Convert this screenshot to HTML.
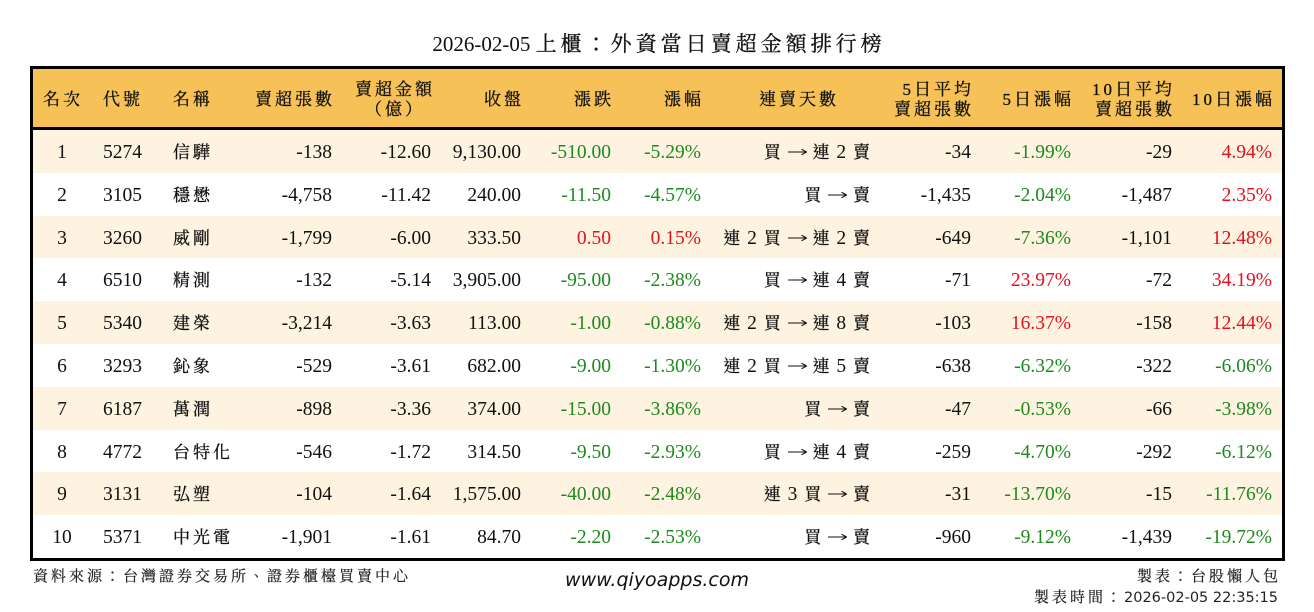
<!DOCTYPE html>
<html lang="zh-Hant-TW">
<head>
<meta charset="utf-8">
<style>
*{box-sizing:border-box;}
html,body{margin:0;padding:0;}
body{width:1314px;height:612px;background:#fff;position:relative;overflow:hidden;font-family:"Liberation Serif","Noto Serif CJK SC",serif;color:#111;}
.title{position:absolute;left:0;top:28px;width:1314px;text-align:center;line-height:30px;font-size:21px;white-space:nowrap;}
.title .cj{letter-spacing:4px;margin-right:-4px;font-family:"Noto Serif CJK SC",serif;-webkit-text-stroke:0.3px #111;}
.tbl{position:absolute;left:30px;top:66px;width:1255px;height:495px;border:3px solid #000;background:#fff;}
.hd{position:absolute;left:0;top:0;width:100%;height:61px;background:#F6C157;border-bottom:3px solid #000;font-family:"Liberation Serif","Noto Serif CJK SC",serif;font-size:17px;letter-spacing:3px;-webkit-text-stroke:0.3px #111;}
.hd div{position:absolute;white-space:nowrap;}
.h1{top:2px;line-height:58px;}
.h2{top:11px;line-height:20px;}
.r{position:absolute;left:0;width:100%;height:42.8px;font-size:19.5px;line-height:42.8px;}
.o{background:#FDF3E0;}
.r span{position:absolute;top:2px;white-space:nowrap;}
.c1{left:9px;width:40px;text-align:center;}
.c2{left:70px;}
.c3{left:140px;font-size:17px;letter-spacing:3px;-webkit-text-stroke:0.3px #111;}
.c4{right:950px;}
.c5{right:851px;}
.c6{right:761px;}
.c7{right:671px;}
.c8{right:581px;}
.c9{right:411px;letter-spacing:1px;}
.c9 b{font-weight:normal;font-size:17px;-webkit-text-stroke:0.3px #111;}
.c9 svg{vertical-align:2px;}
.c10{right:311px;}
.c11{right:211px;}
.c12{right:110px;}
.c13{right:10px;}
.g{color:#1E8A1E;}
.d{color:#E3121E;}
.foot{position:absolute;font-size:15px;line-height:20px;white-space:nowrap;color:#222;}
.foot .cj{letter-spacing:3px;-webkit-text-stroke:0.2px #222;}
.www{position:absolute;left:0;top:568px;width:1314px;text-align:center;font-family:"DejaVu Sans",sans-serif;font-style:italic;font-size:19px;line-height:24px;color:#111;}
.dt{font-family:"DejaVu Sans",sans-serif;font-size:14.5px;letter-spacing:0;}
</style>
</head>
<body>
<div class="title">2026-02-05 <span class="cj">上櫃：外資當日賣超金額排行榜</span></div>

<div class="tbl">
  <div class="hd">
    <div class="h1" style="left:10px;">名次</div>
    <div class="h1" style="left:70px;">代號</div>
    <div class="h1" style="left:140px;">名稱</div>
    <div class="h1" style="right:947px;">賣超張數</div>
    <div class="h2" style="left:322px;width:80px;text-align:center;">賣超金額<br>（億）</div>
    <div class="h1" style="right:758px;">收盤</div>
    <div class="h1" style="right:668px;">漲跌</div>
    <div class="h1" style="right:578px;">漲幅</div>
    <div class="h1" style="left:726px;">連賣天數</div>
    <div class="h2" style="right:308px;text-align:right;">5日平均<br>賣超張數</div>
    <div class="h1" style="right:208px;">5日漲幅</div>
    <div class="h2" style="right:107px;text-align:right;">10日平均<br>賣超張數</div>
    <div class="h1" style="right:7px;">10日漲幅</div>
  </div>

  <div class="r o" style="top:61px;"><span class="c1">1</span><span class="c2">5274</span><span class="c3">信驊</span><span class="c4">-138</span><span class="c5">-12.60</span><span class="c6">9,130.00</span><span class="c7 g">-510.00</span><span class="c8 g">-5.29%</span><span class="c9"><b>買</b> <svg width="19" height="8" viewBox="0 0 19 8"><path d="M0 4H17.5M13.5 1.2L18.5 4L13.5 6.8" stroke="#111" fill="none" stroke-width="1.1"/></svg> <b>連</b> 2 <b>賣</b></span><span class="c10">-34</span><span class="c11 g">-1.99%</span><span class="c12">-29</span><span class="c13 d">4.94%</span></div>

  <div class="r" style="top:103.8px;"><span class="c1">2</span><span class="c2">3105</span><span class="c3">穩懋</span><span class="c4">-4,758</span><span class="c5">-11.42</span><span class="c6">240.00</span><span class="c7 g">-11.50</span><span class="c8 g">-4.57%</span><span class="c9"><b>買</b> <svg width="19" height="8" viewBox="0 0 19 8"><path d="M0 4H17.5M13.5 1.2L18.5 4L13.5 6.8" stroke="#111" fill="none" stroke-width="1.1"/></svg> <b>賣</b></span><span class="c10">-1,435</span><span class="c11 g">-2.04%</span><span class="c12">-1,487</span><span class="c13 d">2.35%</span></div>

  <div class="r o" style="top:146.6px;"><span class="c1">3</span><span class="c2">3260</span><span class="c3">威剛</span><span class="c4">-1,799</span><span class="c5">-6.00</span><span class="c6">333.50</span><span class="c7 d">0.50</span><span class="c8 d">0.15%</span><span class="c9"><b>連</b> 2 <b>買</b> <svg width="19" height="8" viewBox="0 0 19 8"><path d="M0 4H17.5M13.5 1.2L18.5 4L13.5 6.8" stroke="#111" fill="none" stroke-width="1.1"/></svg> <b>連</b> 2 <b>賣</b></span><span class="c10">-649</span><span class="c11 g">-7.36%</span><span class="c12">-1,101</span><span class="c13 d">12.48%</span></div>

  <div class="r" style="top:189.4px;"><span class="c1">4</span><span class="c2">6510</span><span class="c3">精測</span><span class="c4">-132</span><span class="c5">-5.14</span><span class="c6">3,905.00</span><span class="c7 g">-95.00</span><span class="c8 g">-2.38%</span><span class="c9"><b>買</b> <svg width="19" height="8" viewBox="0 0 19 8"><path d="M0 4H17.5M13.5 1.2L18.5 4L13.5 6.8" stroke="#111" fill="none" stroke-width="1.1"/></svg> <b>連</b> 4 <b>賣</b></span><span class="c10">-71</span><span class="c11 d">23.97%</span><span class="c12">-72</span><span class="c13 d">34.19%</span></div>

  <div class="r o" style="top:232.2px;"><span class="c1">5</span><span class="c2">5340</span><span class="c3">建榮</span><span class="c4">-3,214</span><span class="c5">-3.63</span><span class="c6">113.00</span><span class="c7 g">-1.00</span><span class="c8 g">-0.88%</span><span class="c9"><b>連</b> 2 <b>買</b> <svg width="19" height="8" viewBox="0 0 19 8"><path d="M0 4H17.5M13.5 1.2L18.5 4L13.5 6.8" stroke="#111" fill="none" stroke-width="1.1"/></svg> <b>連</b> 8 <b>賣</b></span><span class="c10">-103</span><span class="c11 d">16.37%</span><span class="c12">-158</span><span class="c13 d">12.44%</span></div>

  <div class="r" style="top:275px;"><span class="c1">6</span><span class="c2">3293</span><span class="c3">鈊象</span><span class="c4">-529</span><span class="c5">-3.61</span><span class="c6">682.00</span><span class="c7 g">-9.00</span><span class="c8 g">-1.30%</span><span class="c9"><b>連</b> 2 <b>買</b> <svg width="19" height="8" viewBox="0 0 19 8"><path d="M0 4H17.5M13.5 1.2L18.5 4L13.5 6.8" stroke="#111" fill="none" stroke-width="1.1"/></svg> <b>連</b> 5 <b>賣</b></span><span class="c10">-638</span><span class="c11 g">-6.32%</span><span class="c12">-322</span><span class="c13 g">-6.06%</span></div>

  <div class="r o" style="top:317.8px;"><span class="c1">7</span><span class="c2">6187</span><span class="c3">萬潤</span><span class="c4">-898</span><span class="c5">-3.36</span><span class="c6">374.00</span><span class="c7 g">-15.00</span><span class="c8 g">-3.86%</span><span class="c9"><b>買</b> <svg width="19" height="8" viewBox="0 0 19 8"><path d="M0 4H17.5M13.5 1.2L18.5 4L13.5 6.8" stroke="#111" fill="none" stroke-width="1.1"/></svg> <b>賣</b></span><span class="c10">-47</span><span class="c11 g">-0.53%</span><span class="c12">-66</span><span class="c13 g">-3.98%</span></div>

  <div class="r" style="top:360.6px;"><span class="c1">8</span><span class="c2">4772</span><span class="c3">台特化</span><span class="c4">-546</span><span class="c5">-1.72</span><span class="c6">314.50</span><span class="c7 g">-9.50</span><span class="c8 g">-2.93%</span><span class="c9"><b>買</b> <svg width="19" height="8" viewBox="0 0 19 8"><path d="M0 4H17.5M13.5 1.2L18.5 4L13.5 6.8" stroke="#111" fill="none" stroke-width="1.1"/></svg> <b>連</b> 4 <b>賣</b></span><span class="c10">-259</span><span class="c11 g">-4.70%</span><span class="c12">-292</span><span class="c13 g">-6.12%</span></div>

  <div class="r o" style="top:403.4px;"><span class="c1">9</span><span class="c2">3131</span><span class="c3">弘塑</span><span class="c4">-104</span><span class="c5">-1.64</span><span class="c6">1,575.00</span><span class="c7 g">-40.00</span><span class="c8 g">-2.48%</span><span class="c9"><b>連</b> 3 <b>買</b> <svg width="19" height="8" viewBox="0 0 19 8"><path d="M0 4H17.5M13.5 1.2L18.5 4L13.5 6.8" stroke="#111" fill="none" stroke-width="1.1"/></svg> <b>賣</b></span><span class="c10">-31</span><span class="c11 g">-13.70%</span><span class="c12">-15</span><span class="c13 g">-11.76%</span></div>

  <div class="r" style="top:446.2px;"><span class="c1">10</span><span class="c2">5371</span><span class="c3">中光電</span><span class="c4">-1,901</span><span class="c5">-1.61</span><span class="c6">84.70</span><span class="c7 g">-2.20</span><span class="c8 g">-2.53%</span><span class="c9"><b>買</b> <svg width="19" height="8" viewBox="0 0 19 8"><path d="M0 4H17.5M13.5 1.2L18.5 4L13.5 6.8" stroke="#111" fill="none" stroke-width="1.1"/></svg> <b>賣</b></span><span class="c10">-960</span><span class="c11 g">-9.12%</span><span class="c12">-1,439</span><span class="c13 g">-19.72%</span></div>
</div>

<div class="foot" style="left:33px;top:567px;"><span class="cj">資料來源：台灣證券交易所、證券櫃檯買賣中心</span></div>
<div class="www">www.qiyoapps.com</div>
<div class="foot" style="right:33px;top:567px;text-align:right;"><span class="cj">製表：台股懶人包</span></div>
<div class="foot" style="right:36px;top:588px;text-align:right;"><span class="cj">製表時間：</span><span class="dt">2026-02-05 22:35:15</span></div>
</body>
</html>
